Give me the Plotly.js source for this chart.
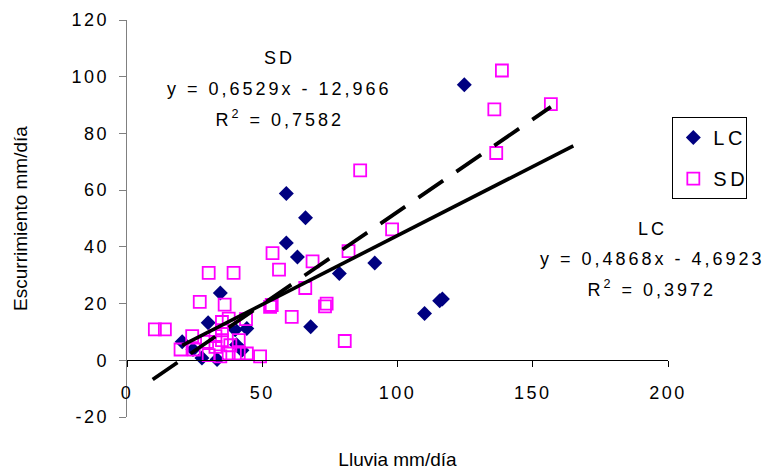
<!DOCTYPE html>
<html>
<head>
<meta charset="utf-8">
<script src="https://cdn.plot.ly/plotly-3.0.1.min.js"></script>
<style>
  html, body { margin: 0; padding: 0; background: #fff; }
  #chart { width: 765px; height: 472px; }
  #chart .xtick text, #chart .ytick text { letter-spacing: 2.5px; }
  #chart .annotation-text { letter-spacing: 3px; }
  #chart .legendtext { letter-spacing: 3.5px; }
</style>
</head>
<body>
<div id="chart"></div>
<script>
// LC series (rainfall mm/day vs runoff mm/day)
var lcX = [124.7, 58.9, 66.0, 58.9, 63.0, 91.6, 78.5, 67.9, 110.0, 116.6, 115.6, 34.5, 30.0, 44.3, 40.0, 20.4, 24.4, 27.7, 33.3, 42.5, 40.5];
var lcY = [97.2, 58.8, 50.3, 41.4, 36.4, 34.3, 30.6, 11.8, 16.5, 21.6, 21.0, 23.7, 13.2, 11.2, 10.8, 6.5, 3.8, 0.8, 0.3, 3.5, 5.5];

// SD series
var sdX = [138.6, 135.8, 136.5, 156.7, 86.2, 98.0, 81.9, 68.6, 53.8, 56.2, 65.9, 73.2, 73.8, 60.9, 80.5, 52.9, 53.5, 30.2, 39.4, 26.9, 36.1, 10.3, 14.0, 35.1, 37.6, 44.0, 24.1, 19.8, 24.7, 32.7, 35.1, 41.3, 30.2, 34.5, 37.6, 41.3, 44.3, 49.2, 32.7, 38.2, 29.6, 35.1];
var sdY = [102.2, 88.5, 73.1, 90.3, 67.0, 46.2, 38.5, 34.9, 37.8, 32.0, 25.5, 19.0, 20.0, 15.3, 6.8, 18.8, 19.5, 30.8, 30.8, 20.6, 19.6, 10.9, 10.9, 13.5, 14.7, 14.5, 8.5, 3.8, 3.8, 8.5, 10.6, 7.1, 1.8, 1.4, 2.4, 2.4, 2.4, 1.4, 4.7, 5.3, 6.5, 7.1];

// Linear trendlines (coefficients as printed on the chart) and their x spans
var lcTrend = [0.4868, -4.6923];
var sdTrend = [0.6529, -12.966];
var lcTrendX = [20.4, 165];
var sdTrendX = [9.5, 156.7];

// Axis ticks
var xTicks = [0, 50, 100, 150, 200];
var yTicks = [-20, 0, 20, 40, 60, 80, 100, 120];

// Labels
var seriesNames = ['LC', 'SD'];
var sdLabel = ['SD', 'y = 0,6529x - 12,966', 'R<sup>2</sup> = 0,7582'];
var lcLabel = ['LC', 'y = 0,4868x - 4,6923', 'R<sup>2</sup> = 0,3972'];

function lineY(c, xs) { return xs.map(function (x) { return c[0] * x + c[1]; }); }

var FONT = 'Liberation Sans, Arial, sans-serif';

var traces = [
  {
    x: lcX, y: lcY, type: 'scatter', mode: 'markers', name: seriesNames[0],
    legendgroup: 'a',
    marker: { symbol: 'diamond', size: 11.5, color: '#000080', line: { width: 0 } }
  },
  {
    x: sdX, y: sdY, type: 'scatter', mode: 'markers', name: seriesNames[1],
    legendgroup: 'b',
    marker: { symbol: 'square-open', size: 12, color: '#FF00FF', line: { width: 1.8, color: '#FF00FF' } }
  },
  {
    x: lcTrendX, y: lineY(lcTrend, lcTrendX), type: 'scatter', mode: 'lines',
    showlegend: false, hoverinfo: 'skip',
    line: { color: '#000000', width: 3.6 }
  },
  {
    x: sdTrendX, y: lineY(sdTrend, sdTrendX), type: 'scatter', mode: 'lines',
    showlegend: false, hoverinfo: 'skip',
    line: { color: '#000000', width: 3.8, dash: '30px,16px' }
  }
];

function ann(text, x, y) {
  return { text: text, x: x, y: y, xref: 'paper', yref: 'paper', xanchor: 'center', yanchor: 'middle',
           showarrow: false, font: { family: FONT, size: 18, color: '#000' } };
}

var layout = {
  width: 765, height: 472,
  margin: { l: 127, r: 97, t: 20, b: 55 },
  paper_bgcolor: '#ffffff', plot_bgcolor: '#ffffff',
  font: { family: FONT, size: 18, color: '#000' },
  showlegend: true,
  legend: {
    x: 1.008, y: 0.7555, xanchor: 'left', yanchor: 'top',
    bordercolor: '#000', borderwidth: 1, bgcolor: '#fff',
    font: { family: FONT, size: 20, color: '#000' },
    traceorder: 'grouped', tracegroupgap: 12
  },
  xaxis: {
    range: [0, 200], tickvals: xTicks, ticktext: xTicks.map(String),
    anchor: 'free', position: 20 / 140,
    showline: true, linecolor: '#000', linewidth: 1,
    ticks: 'outside', ticklen: 6, tickcolor: '#000', tickwidth: 1,
    ticklabelstandoff: 10,
    showgrid: false, zeroline: false,
    tickfont: { family: FONT, size: 18, color: '#000' },
    title: { text: 'Lluvia mm/día', font: { family: 'Liberation Sans Narrow, Liberation Sans, Arial, sans-serif', size: 19, color: '#000' }, standoff: 50 }
  },
  yaxis: {
    range: [-20, 120], tickvals: yTicks, ticktext: yTicks.map(String),
    showline: true, linecolor: '#808080', linewidth: 1.3,
    ticks: 'outside', ticklen: 7, tickcolor: '#808080', tickwidth: 1,
    ticklabelstandoff: 6,
    showgrid: false, zeroline: false,
    tickfont: { family: FONT, size: 18, color: '#000' },
    title: { text: 'Escurrimiento mm/día', font: { family: 'Liberation Sans Narrow, Liberation Sans, Arial, sans-serif', size: 19, color: '#000' }, standoff: 46 }
  },
  annotations: [
    ann(sdLabel[0], 0.2826, 0.904),
    ann(sdLabel[1], 0.2826, 0.827),
    ann(sdLabel[2], 0.2826, 0.752),
    ann(lcLabel[0], 0.971, 0.473),
    ann(lcLabel[1], 0.971, 0.399),
    ann(lcLabel[2], 0.971, 0.324)
  ]
};

Plotly.newPlot('chart', traces, layout, { displayModeBar: false, staticPlot: true });
</script>
</body>
</html>
